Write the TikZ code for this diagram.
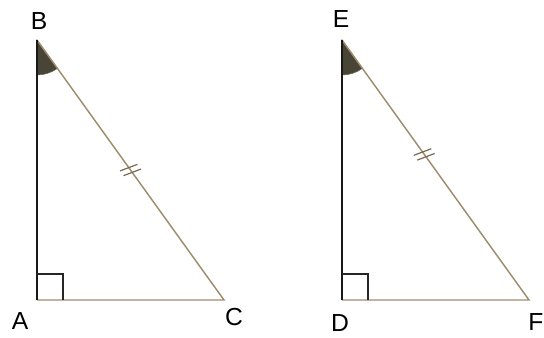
\documentclass[tikz,border=0pt]{standalone}
\usepackage{fontspec}
\setmainfont{Liberation Sans}
\usepackage{xcolor}
\usetikzlibrary{calc}

\definecolor{sidetan}{RGB}{160,140,110}
\definecolor{wedgedark}{RGB}{72,68,54}

\begin{document}
\begin{tikzpicture}[
  x=0.75pt, y=0.75pt,
  leg/.style     = {draw=black!90, line width=1pt},
  side/.style    = {draw=sidetan, line width=1.1pt},
  square/.style  = {draw=black!85, line width=0.8pt},
  wedge/.style   = {fill=wedgedark, draw=wedgedark!80, line width=0.4pt},
  hashmark/.style= {draw=sidetan!75!black, line width=0.9pt},
  vlabel/.style  = {font=\fontsize{18.5}{20}\selectfont, inner sep=0pt},
]
\useasboundingbox (0,0) rectangle (544,338);

% left triangle
\coordinate (A) at (37,38);
\coordinate (B) at (37,298);
\coordinate (C) at (224,38);
% right triangle
\coordinate (D) at (342,38);
\coordinate (E) at (342,298);
\coordinate (F) at (529,38);

\foreach \p/\q/\r/\pos in {A/B/C/0.5, D/E/F/0.44}{
  % angle at the top vertex
  \path[wedge] (\q) -- ++(270:35) arc (270:305.7:35) -- cycle;
  \draw[side] (\p) -- (\r) -- (\q);
  \draw[leg]  (\q) -- (\p);
  % right angle
  \draw[square] ($(\p)+(0,26)$) -- ++(26,0) -- ++(0,-26);
  % double hash on the hypotenuse
  \path (\q) -- (\r) coordinate[pos=\pos] (m\q);
  \foreach \s in {-2.2pt,2.2pt}{
    \coordinate (h) at ($(m\q)!\s!(\r)$);
    \draw[hashmark] ($(h)!7pt!75:(\r)$) -- ($(h)!7pt!-105:(\r)$);
  }
}

\node[vlabel] (labA) at (20,17)    {A};
\node[vlabel] (labB) at (39,316.5) {B};
\node[vlabel] (labC) at (234,20.5) {C};
\node[vlabel] (labD) at (340,15)   {D};
\node[vlabel] (labE) at (341,319)  {E};
\node[vlabel] (labF) at (536,16)   {F};
\end{tikzpicture}
\end{document}
